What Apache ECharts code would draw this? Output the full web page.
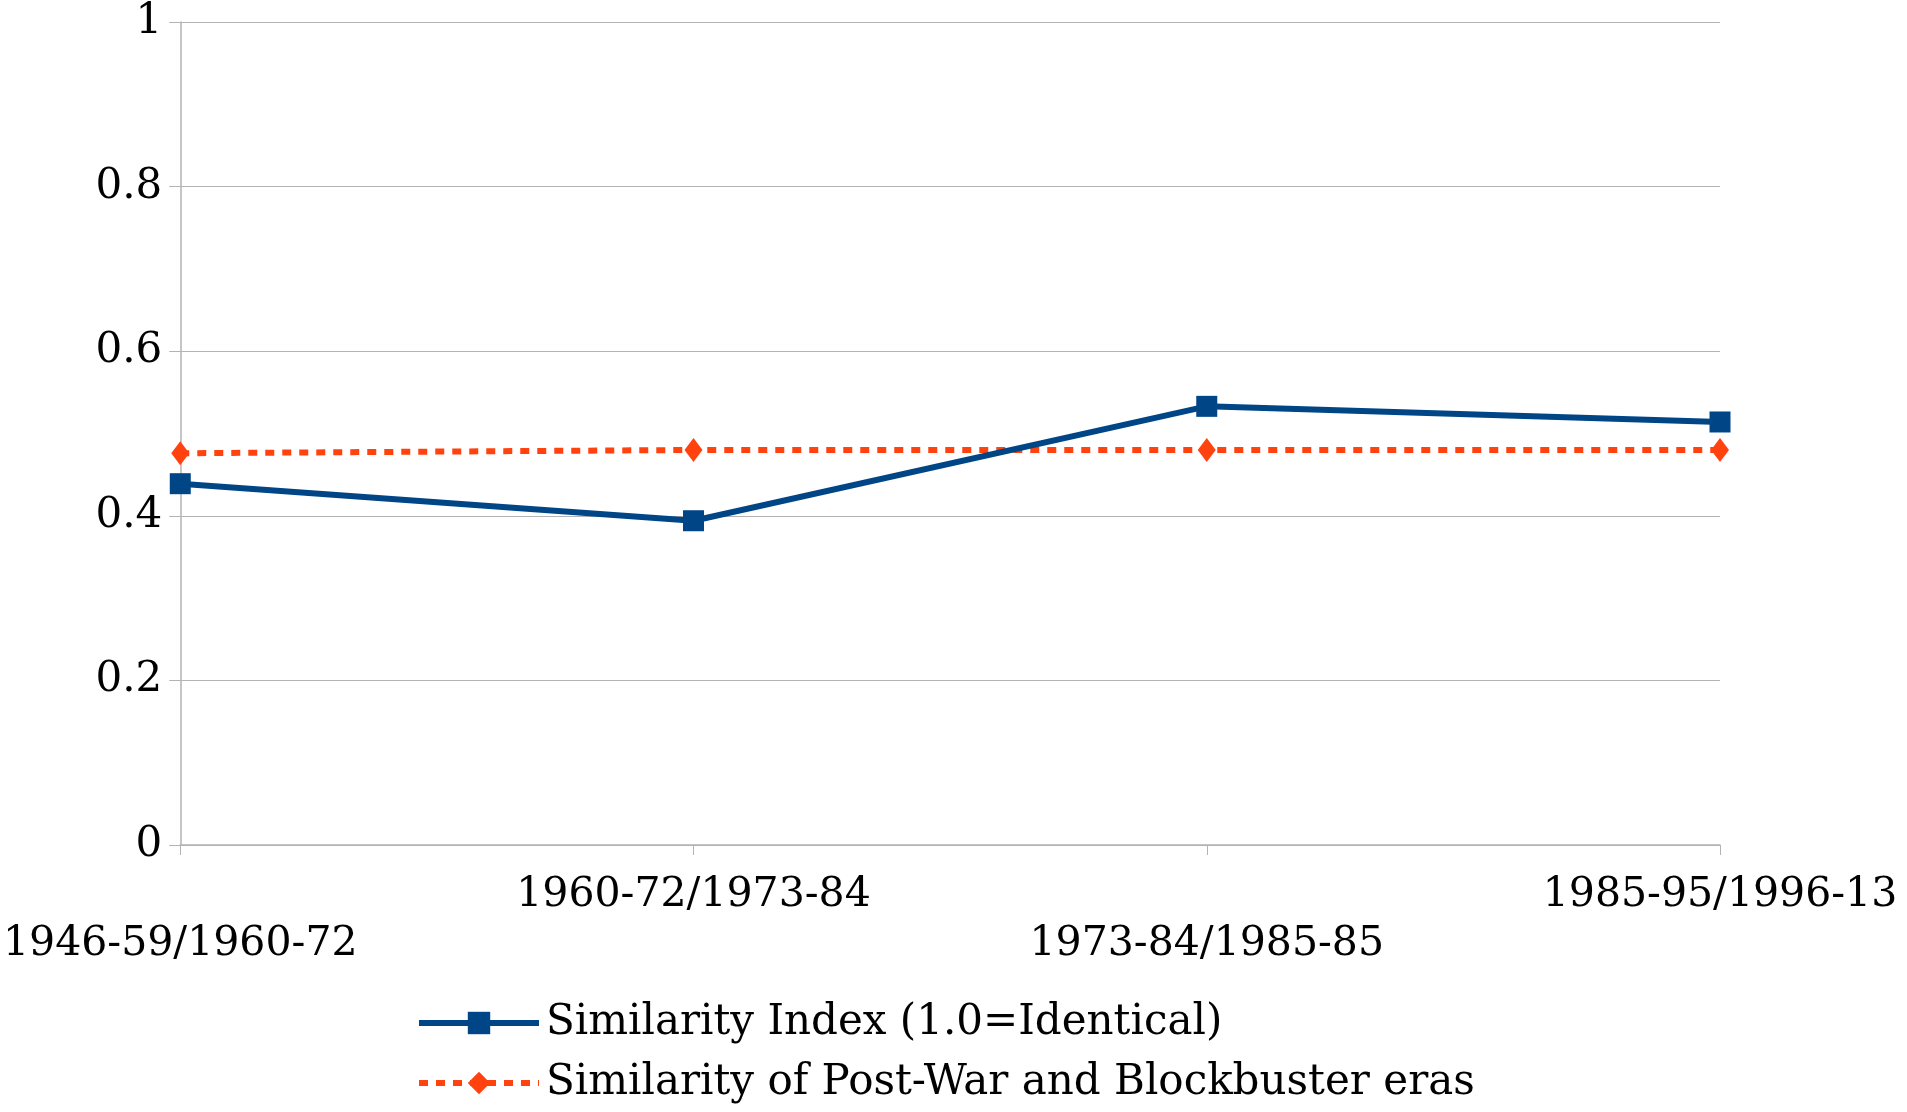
<!DOCTYPE html>
<html>
<head>
<meta charset="utf-8">
<script src="https://cdn.jsdelivr.net/npm/echarts@6/dist/echarts.min.js"></script>
<style>
  html, body { margin: 0; padding: 0; background: #fff; }
  #chart { width: 1907px; height: 1112px; }
</style>
</head>
<body>
<div id="chart"></div>
<script>
// periods compared
const categories = ['1946-59/1960-72', '1960-72/1973-84', '1973-84/1985-85', '1985-95/1996-13'];
const similarityIndex = [0.439, 0.394, 0.533, 0.514];
const postWarVsBlockbuster = [0.476, 0.48, 0.48, 0.48];
const yTicks = [0, 0.2, 0.4, 0.6, 0.8, 1];

const font = '"DejaVu Serif", serif';
const gridColor = '#b3b3b3';
const blue = '#004586';
const orange = '#ff420e';

const chart = echarts.init(document.getElementById('chart'));

chart.setOption({
  animation: false,
  textStyle: { fontFamily: font },
  grid: { left: 178, right: 187, top: 22, bottom: 267, containLabel: false },
  xAxis: {
    type: 'category',
    data: categories,
    boundaryGap: false,
    axisLine: { lineStyle: { color: gridColor, width: 1.5 } },
    axisTick: { show: true, alignWithLabel: true, length: 10, lineStyle: { color: gridColor } },
    axisLabel: {
      interval: 0,
      color: '#000',
      fontSize: 41,
      fontFamily: font,
      margin: 26,
      lineHeight: 49,
      verticalAlign: 'top',
      // stagger labels on two rows
      formatter: (v, i) => (i % 2 === 0 ? '\n' + v : v),
    },
    splitLine: { show: false },
  },
  yAxis: {
    type: 'value',
    min: 0,
    max: 1,
    interval: 0.2,
    axisLine: { show: true, lineStyle: { color: gridColor, width: 1.5 } },
    axisTick: { show: true, length: 11, lineStyle: { color: gridColor } },
    splitLine: { lineStyle: { color: gridColor, width: 1.2 } },
    axisLabel: {
      color: '#000',
      fontSize: 42,
      fontFamily: font,
      margin: 18,
      formatter: (v) => (yTicks.includes(v) ? String(v) : ''),
    },
  },
  legend: {
    orient: 'vertical',
    left: 411,
    top: 997,
    itemWidth: 120,
    itemHeight: 28,
    itemGap: 18,
    textStyle: { color: '#000', fontSize: 42, fontFamily: font, padding: [0, 0, 0, 2] },
    data: [
      {
        name: 'Similarity Index (1.0=Identical)',
        lineStyle: { width: 6, color: blue },
      },
      {
        name: 'Similarity of Post-War and Blockbuster eras',
        lineStyle: { width: 6, color: orange, type: [9, 8] },
      },
    ],
  },
  series: [
    {
      name: 'Similarity Index (1.0=Identical)',
      type: 'line',
      data: similarityIndex,
      symbol: 'rect',
      symbolSize: 21,
      lineStyle: { color: blue, width: 6 },
      itemStyle: { color: blue },
      z: 3,
    },
    {
      name: 'Similarity of Post-War and Blockbuster eras',
      type: 'line',
      data: postWarVsBlockbuster,
      symbol: 'diamond',
      symbolSize: [18, 24],
      lineStyle: { color: orange, width: 6, type: [9, 8] },
      itemStyle: { color: orange },
      z: 2,
    },
  ],
});
</script>
</body>
</html>
